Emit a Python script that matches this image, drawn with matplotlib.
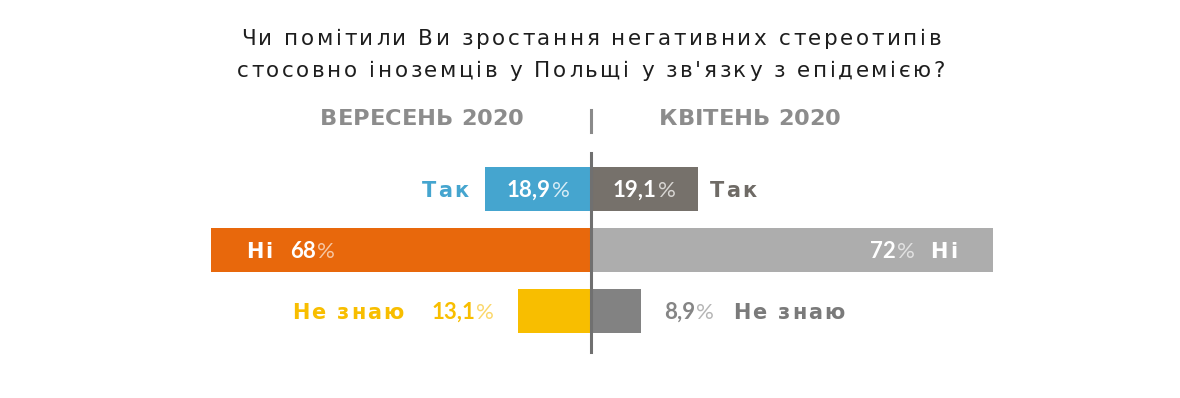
import matplotlib.pyplot as plt
from matplotlib.transforms import IdentityTransform

categories = ['Так', 'Ні', 'Не знаю']
sep_values = [18.9, 68, 13.1]
apr_values = [19.1, 72, 8.9]
sep_labels = ['18,9', '68', '13,1']
apr_labels = ['19,1', '72', '8,9']
sep_title = 'ВЕРЕСЕНЬ 2020'
apr_title = 'КВІТЕНЬ 2020'
title_lines = ['Чи помітили Ви зростання негативних стереотипів',
               'стосовно іноземців у Польщі у зв\'язку з епідемією?']

sep_colors = ['#45a5cf', '#e8680c', '#f8be00']
apr_colors = ['#76716b', '#adadad', '#828282']

PX = 5.585      # pixels per percent
ROW = 61.0      # pixels between rows
H = 398

fig = plt.figure(figsize=(11.8, 3.98), dpi=100)
ax = fig.add_axes([0, 0, 1, 1])
ax.set_xlim(-591 / PX, (1180 - 591) / PX)
ax.set_ylim((H - 189) / ROW, -189 / ROW)
ax.axis('off')

rows = list(range(len(categories)))
bh = 44 / ROW
ax.barh(rows, [-v for v in sep_values], height=bh, color=sep_colors, zorder=2)
ax.barh(rows, apr_values, height=bh, color=apr_colors, zorder=2)

# central divider
ax.plot([0, 0], [(153 - 189) / ROW, (352 - 189) / ROW], color='#707070', lw=2.2, zorder=3)
ax.plot([0, 0], [(110 - 189) / ROW, (132 - 189) / ROW], color='#8a8a8a', lw=2.2, zorder=3)

renderer = fig.canvas.get_renderer()
ident = IdentityTransform()


def width(s, **kw):
    t = fig.text(0, 0, s, **kw)
    w = t.get_window_extent(renderer).width
    t.remove()
    return w


def tracked(x, y, s, track, ha='center', **kw):
    # x, y in display pixels, y = baseline; letters spaced by `track` px
    wh = width('H', **kw)
    pos = [0.0] + [width(s[:i] + 'H', **kw) - wh for i in range(1, len(s))]
    pos = [p + i * track for i, p in enumerate(pos)]
    total = pos[-1] + width(s[-1], **kw)
    if ha == 'center':
        left = x - total / 2
    elif ha == 'right':
        left = x - total
    else:
        left = x
    for c, p in zip(s, pos):
        if c != ' ':
            fig.text(left + p, y, c, transform=ident, ha='left', va='baseline', **kw)


def anchor(x, row):
    px, py = ax.transData.transform((x, row))
    return px, py


LAB = dict(fontsize=15, fontweight='bold', family='DejaVu Sans')
NUM = dict(fontsize=16, family='Lato')


def label(x, row, s, color, ha, dx=0):
    px, py = anchor(x, row)
    tracked(px + dx, py - 7.6, s, 2.0, ha=ha, color=color, **LAB)


def pct(x, row, num, color, pct_color, ha, dx=0):
    px, py = anchor(x, row)
    w1 = width(num, fontweight='bold', **NUM)
    w2 = width('%', **NUM)
    total = w1 + w2 + 1
    if ha == 'center':
        left = px + dx - total / 2
    elif ha == 'left':
        left = px + dx
    else:
        left = px + dx - total
    base = py - 8
    fig.text(left, base, num, transform=ident, ha='left', va='baseline',
             color=color, fontweight='bold', **NUM)
    fig.text(left + w1 + 1, base, '%', transform=ident, ha='left', va='baseline',
             color=pct_color, **NUM)


# Так
label(-sep_values[0], 0, categories[0], sep_colors[0], 'right', -17)
pct(-sep_values[0] / 2, 0, sep_labels[0], 'white', '#d6ecf6', 'center')
pct(apr_values[0] / 2, 0, apr_labels[0], 'white', '#d8d6d3', 'center')
label(apr_values[0], 0, categories[0], '#6f6b66', 'left', 12)

# Ні
label(-sep_values[1], 1, categories[1], 'white', 'left', 35)
pct(-sep_values[1], 1, sep_labels[1], 'white', '#f7c7a3', 'left', 79)
pct(apr_values[1], 1, apr_labels[1], 'white', '#e2e2e2', 'right', -78)
label(apr_values[1], 1, categories[1], 'white', 'right', -36)

# Не знаю
label(-sep_values[2], 2, categories[2], sep_colors[2], 'right', -114)
pct(-sep_values[2], 2, sep_labels[2], sep_colors[2], '#fbd76a', 'right', -24)
pct(apr_values[2], 2, apr_labels[2], '#858585', '#b5b5b5', 'left', 23)
label(apr_values[2], 2, categories[2], '#7a7a7a', 'left', 92)

# column headers
HDR = dict(fontsize=16.2, fontweight='bold', color='#8c8c8c', family='DejaVu Sans')
tracked(422, H - 125, sep_title, 0.0, **HDR)
tracked(750, H - 125, apr_title, 0.0, **HDR)

# title
TTL = dict(fontsize=15.5, color='#1e1e1e', family='DejaVu Sans')
tracked(591, H - 45, title_lines[0], 2.6, **TTL)
tracked(591, H - 77, title_lines[1], 2.6, **TTL)

fig.savefig('out.png', dpi=100, facecolor='white')
